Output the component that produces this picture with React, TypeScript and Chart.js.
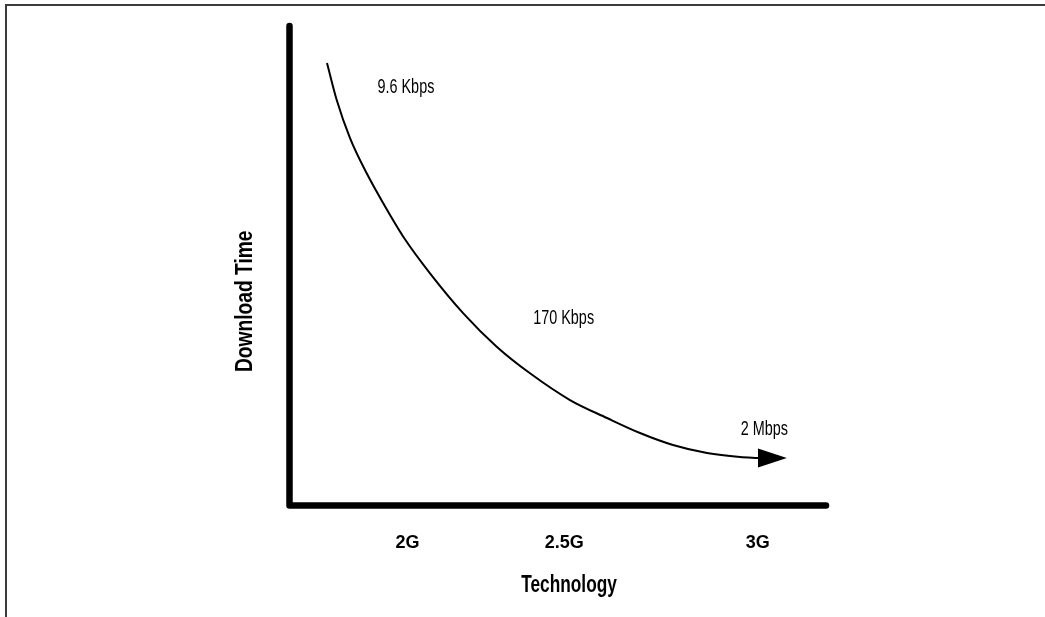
import React, { useEffect, useRef } from 'react';
import { Chart, registerables } from 'chart.js';

Chart.register(...registerables);

// Curve: download time falling with technology generation
const curveX = [6.99, 8.8, 11.28, 14.39, 17.48, 21.21, 26.19, 32.4, 38.62, 44.83, 52.28, 59.18, 65.33, 71.48, 77.82, 83.97, 87.33];
const curveY = [92.28, 84.57, 76.64, 69.28, 63.02, 56.06, 48.43, 40.08, 33.12, 27.57, 22.0, 18.25, 15.12, 12.62, 10.95, 10.11, 9.9];
const arrowTipX = 92.7;

// Technology ticks on x axis
const techTicks = [22, 51.2, 87.3];
const techLabels = ['2G', '2.5G', '3G'];

// Speed annotations
const speedLabels = ['9.6 Kbps', '170 Kbps', '2 Mbps'];
const speedX = [21.7, 51.1, 88.5];
const speedY = [87.1, 38.9, 15.8];

const xTitle = 'Technology';
const yTitle = 'Download Time';

const FONT = '"Liberation Sans", Arial, sans-serif';

function drawText(ctx: any, text: string, x: number, y: number, sx: number, rot = 0) {
  ctx.save();
  ctx.translate(x, y);
  if (rot) ctx.rotate(rot);
  ctx.scale(sx, 1);
  ctx.fillText(text, 0, 0);
  ctx.restore();
}

const decorPlugin = {
  id: 'decor',
  beforeDatasetsDraw(chart: any) {
    const { ctx, chartArea } = chart;
    const { left, right, top, bottom } = chartArea;
    ctx.save();
    ctx.strokeStyle = '#000';
    ctx.lineWidth = 6.5;
    ctx.lineCap = 'round';
    ctx.lineJoin = 'round';
    ctx.beginPath();
    ctx.moveTo(left, top);
    ctx.lineTo(left, bottom);
    ctx.lineTo(right, bottom);
    ctx.stroke();
    ctx.restore();
  },
  afterDatasetsDraw(chart: any) {
    const { ctx, chartArea } = chart;
    const xs = chart.scales.x;
    const ys = chart.scales.y;
    const meta = chart.getDatasetMeta(0);
    const last = meta.data[meta.data.length - 1];
    const tip = xs.getPixelForValue(arrowTipX);
    ctx.save();
    ctx.fillStyle = '#000';
    ctx.beginPath();
    ctx.moveTo(last.x, last.y - 9.5);
    ctx.lineTo(tip, last.y);
    ctx.lineTo(last.x, last.y + 9.5);
    ctx.closePath();
    ctx.fill();

    ctx.textAlign = 'center';
    ctx.textBaseline = 'middle';
    ctx.font = `20px ${FONT}`;
    speedLabels.forEach((t, i) => {
      drawText(ctx, t, xs.getPixelForValue(speedX[i]), ys.getPixelForValue(speedY[i]), 0.72);
    });

    ctx.font = `bold 24px ${FONT}`;
    drawText(ctx, xTitle, xs.getPixelForValue(52.1), chartArea.bottom + 80, 0.72);
    drawText(ctx, yTitle, chartArea.left - 44.5, ys.getPixelForValue(42.6), 0.8, -Math.PI / 2);
    ctx.restore();
  },
};

export default function App() {
  const ref = useRef<HTMLCanvasElement | null>(null);

  useEffect(() => {
    if (!ref.current) return;
    const chart = new Chart(ref.current, {
      type: 'line',
      data: {
        datasets: [
          {
            data: curveX.map((x, i) => ({ x, y: curveY[i] })),
            borderColor: '#000',
            borderWidth: 2,
            pointRadius: 0,
            fill: false,
            cubicInterpolationMode: 'monotone',
          },
        ],
      },
      options: {
        responsive: false,
        animation: false,
        devicePixelRatio: 1,
        layout: { padding: { left: 0, right: 219, top: 26, bottom: 0 } },
        plugins: { legend: { display: false }, tooltip: { enabled: false } },
        scales: {
          x: {
            type: 'linear',
            min: 0,
            max: 100,
            grid: { display: false, drawTicks: false },
            border: { display: false },
            afterBuildTicks: (s: any) => {
              s.ticks = techTicks.map((v) => ({ value: v }));
            },
            afterFit: (s: any) => {
              s.height = 111.5;
            },
            ticks: {
              padding: 27,
              color: '#000',
              autoSkip: false,
              maxRotation: 0,
              font: { family: FONT, size: 18, weight: 'bold' },
              callback: (v: any) => {
                const i = techTicks.indexOf(Number(v));
                return i >= 0 ? techLabels[i] : '';
              },
            },
          },
          y: {
            type: 'linear',
            min: 0,
            max: 100,
            grid: { display: false },
            border: { display: false },
            ticks: { display: false },
            afterFit: (s: any) => {
              s.width = 289.5;
            },
          },
        },
      } as any,
      plugins: [decorPlugin],
    });
    return () => chart.destroy();
  }, []);

  return (
    <div style={{ position: 'absolute', left: 0, top: 0, width: 1045, height: 617, background: '#fff', overflow: 'hidden' }}>
      <div
        style={{
          position: 'absolute',
          left: 5,
          top: 4,
          width: 1045,
          height: 620,
          borderTop: '2px solid #3c3c3c',
          borderLeft: '2px solid #3c3c3c',
        }}
      />
      <canvas ref={ref} width={1045} height={617} style={{ position: 'absolute', left: 0, top: 0, width: 1045, height: 617 }} />
    </div>
  );
}
